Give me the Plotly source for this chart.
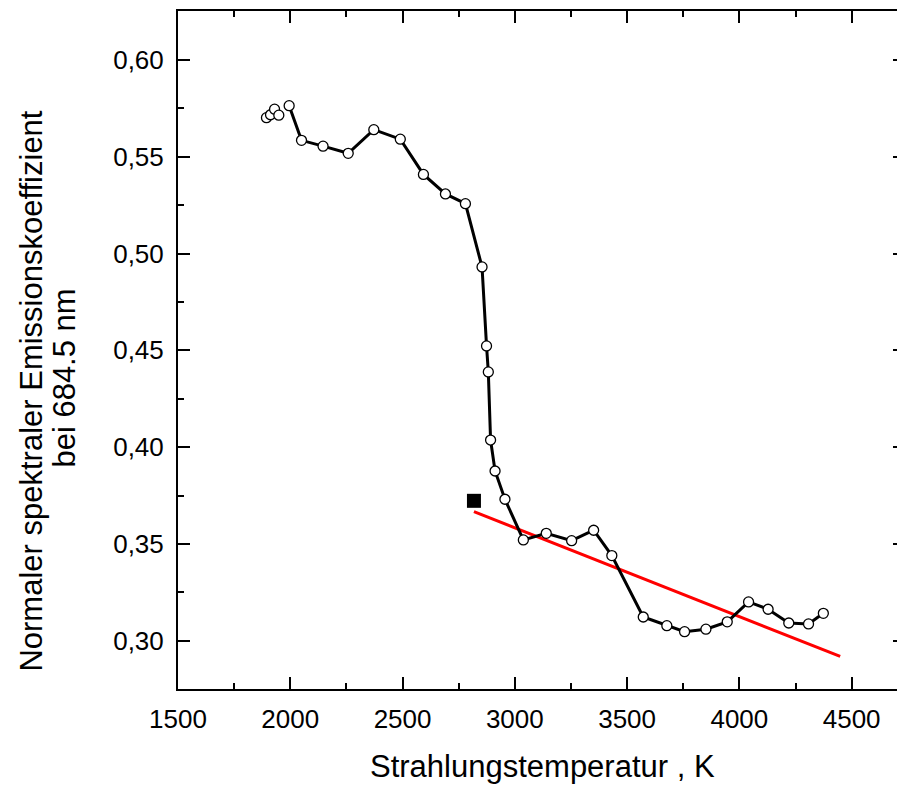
import plotly.graph_objects as go

# Measured series (temperature K, normal spectral emissivity at 684.5 nm)
temp_cluster = [1894, 1912, 1930, 1949]
emis_cluster = [0.5702, 0.5717, 0.5746, 0.5715]

temp = [1995, 2050, 2146, 2258, 2372, 2490, 2593, 2691, 2780, 2854, 2874, 2882,
        2892, 2912, 2956, 3038, 3140, 3253, 3351, 3432, 3572, 3677, 3756, 3851,
        3946, 4041, 4128, 4220, 4308, 4374]
emis = [0.5764, 0.5585, 0.5555, 0.5518, 0.5640, 0.5591, 0.5409, 0.5308, 0.5258,
        0.4931, 0.4523, 0.4389, 0.4037, 0.3877, 0.3731, 0.3521, 0.3555, 0.3517,
        0.3571, 0.3440, 0.3123, 0.3078, 0.3047, 0.3060, 0.3098, 0.3201, 0.3163,
        0.3092, 0.3087, 0.3142]

# Single reference point (filled square)
ref_temp = [2818]
ref_emis = [0.3723]

# Linear fit (red line) end points
fit_temp = [2818, 4449]
fit_emis = [0.3667, 0.2919]

x_range = [1500, 4702]
y_range = [0.2751, 0.6253]
y_ticks = [0.30, 0.35, 0.40, 0.45, 0.50, 0.55, 0.60]
x_ticks = [1500, 2000, 2500, 3000, 3500, 4000, 4500]

FONT = "Liberation Sans, Arial, Helvetica, sans-serif"

W, H = 897, 786
PL, PT, PB, PR = 177.5, 11, 689, 897  # plot box in page pixels
PW, PH = PR - PL, PB - PT

fig = go.Figure()

fig.add_trace(go.Scatter(
    x=fit_temp, y=fit_emis, mode="lines",
    line=dict(color="#ff0000", width=3), showlegend=False, hoverinfo="skip"))

fig.add_trace(go.Scatter(
    x=temp, y=emis, mode="lines",
    line=dict(color="black", width=3), showlegend=False, hoverinfo="skip"))

fig.add_trace(go.Scatter(
    x=temp_cluster + temp, y=emis_cluster + emis, mode="markers",
    marker=dict(symbol="circle", size=10, color="white",
                line=dict(color="black", width=1.3)),
    showlegend=False))

fig.add_trace(go.Scatter(
    x=ref_temp, y=ref_emis, mode="markers",
    marker=dict(symbol="square", size=14, color="black",
                line=dict(color="black", width=0)),
    showlegend=False))

# invisible trace to enable right-side ticks
fig.add_trace(go.Scatter(x=[None], y=[None], yaxis="y2", showlegend=False))

fig.update_layout(
    width=W, height=H,
    margin=dict(l=PL, r=W - PR, t=PT, b=H - PB, pad=0),
    paper_bgcolor="white", plot_bgcolor="white",
    separators=",.",
    font=dict(family=FONT, color="black"),
    xaxis=dict(
        range=x_range, tickvals=x_ticks,
        ticks="inside", ticklen=12, tickwidth=2, tickcolor="black",
        minor=dict(ticks="inside", ticklen=6, tickwidth=2, dtick=250,
                   tick0=1500, tickcolor="black"),
        showline=True, linecolor="black", linewidth=2, mirror="ticks",
        showgrid=False, zeroline=False,
        tickfont=dict(size=26, family=FONT), ticklabelstandoff=6,
    ),
    yaxis=dict(
        range=y_range, tickvals=y_ticks, tickformat=".2f",
        ticks="inside", ticklen=12, tickwidth=2, tickcolor="black",
        minor=dict(ticks="inside", ticklen=6, tickwidth=2, dtick=0.025,
                   tick0=0.3, tickcolor="black"),
        showline=True, linecolor="black", linewidth=2, mirror=False,
        showgrid=False, zeroline=False,
        tickfont=dict(size=26, family=FONT), ticklabelstandoff=7,
    ),
    yaxis2=dict(
        overlaying="y", side="right", range=y_range, tickvals=y_ticks,
        ticks="inside", ticklen=4, tickwidth=2, tickcolor="black",
        showticklabels=False, showline=False, showgrid=False, zeroline=False,
    ),
    annotations=[
        dict(text="Strahlungstemperatur , K", xref="paper", yref="paper",
             x=(542 - PL) / PW, y=-(766 - PB) / PH, xanchor="center", yanchor="middle",
             showarrow=False, font=dict(size=31, family=FONT)),
        dict(text="Normaler spektraler Emissionskoeffizient", xref="paper", yref="paper",
             x=(30 - PL) / PW, y=(PB - 391) / PH, xanchor="center", yanchor="middle",
             textangle=-90, showarrow=False, font=dict(size=31, family=FONT)),
        dict(text="bei 684.5 nm", xref="paper", yref="paper",
             x=(63 - PL) / PW, y=(PB - 378) / PH, xanchor="center", yanchor="middle",
             textangle=-90, showarrow=False, font=dict(size=31, family=FONT)),
    ],
)

fig.write_html(
    "out.html",
    config={"displayModeBar": False},
    post_script="document.body.style.margin='0';document.body.style.overflow='hidden';",
)
